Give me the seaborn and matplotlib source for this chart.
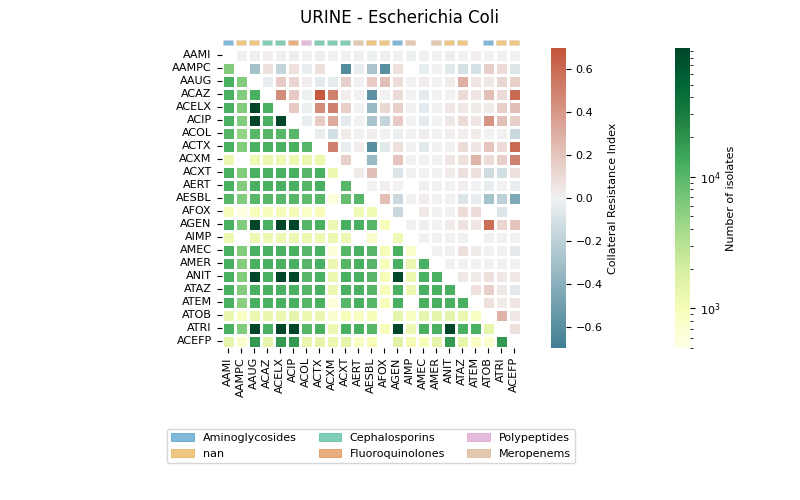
import numpy as np
import matplotlib
matplotlib.use("Agg")
import matplotlib.pyplot as plt
import seaborn as sns
from matplotlib.colors import LogNorm
from matplotlib.patches import Rectangle, Patch

# Antibiotics (rows / columns) and their class
antibiotics = ["AAMI", "AAMPC", "AAUG", "ACAZ", "ACELX", "ACIP", "ACOL", "ACTX",
               "ACXM", "ACXT", "AERT", "AESBL", "AFOX", "AGEN", "AIMP", "AMEC",
               "AMER", "ANIT", "ATAZ", "ATEM", "ATOB", "ATRI", "ACEFP"]
categories = ["Aminoglycosides", "nan", "nan", "Cephalosporins", "Cephalosporins",
              "Fluoroquinolones", "Polypeptides", "Cephalosporins", "Cephalosporins",
              "Cephalosporins", "Meropenems", "nan", "nan", "Aminoglycosides",
              "Meropenems", None, "Meropenems", "nan", "nan", None,
              "Aminoglycosides", "nan", "nan"]
category_order = ["Aminoglycosides", "nan", "Cephalosporins",
                  "Fluoroquinolones", "Polypeptides", "Meropenems"]

nan = np.nan

# Lower triangle: number of isolates (row i holds columns 0..i-1)
isolates_lower = [
    [6000],
    [12000, 6000],
    [12000, 6000, 12000],
    [12000, 6000, 90000, 12000],
    [12000, 6000, 90000, 12000, 90000],
    [10000, 4800, 10000, 10000, 10000, 10000],
    [12000, 6000, 12000, 12000, 12000, 12000, 10000],
    [1200, nan, 1200, 1200, 1200, 1200, 1200, 1200],
    [12000, 6000, 12000, 12000, 12000, 12000, 10000, 12000, 1200],
    [12000, 6000, 12000, 12000, 12000, 12000, 10000, 12000, nan, 10000],
    [10000, 6000, 10000, 10000, 10000, 10000, 9000, 10000, 600, 8500, 10000],
    [950, 550, 950, 950, 1000, 1000, 800, 950, nan, nan, 1100, 1100],
    [12000, 6000, 90000, 12000, 90000, 90000, 10000, 12000, 1200, 12000, 12000,
     10000, 980],
    [1200, nan, 1200, 1200, 1200, 1200, 1200, 1200, 1200, 1200, nan, 750, nan,
     1150],
    [12000, 6000, 12000, 12000, 12000, 12000, 10000, 12000, 600, 10000, 12000,
     10000, 980, 12000, 750],
    [12000, 6000, 12000, 12000, 12000, 12000, 10000, 12000, 1200, 10000, 12000,
     10000, 980, 12000, 1200, 12000],
    [12000, 6000, 90000, 12000, 90000, 90000, 10000, 12000, 1200, 12000, 12000,
     10000, 980, 90000, 1200, 12000, 12000],
    [12000, 6000, 12000, 12000, 12000, 12000, 10000, 12000, 1200, 12000, 12000,
     10000, 980, 12000, 1200, 12000, 12000, 12000],
    [12000, 5300, 12000, 12000, 12000, 12000, 10000, 12000, 600, 10000, 12000,
     10000, 980, 12000, nan, 12000, 12000, 12000, 12000],
    [1300, 850, 1300, 1300, 1300, 1400, 1200, 1300, 700, 980, 850, 980, nan,
     1400, 850, 1400, 1400, 1400, 1300, 850],
    [12000, 6000, 90000, 12000, 90000, 90000, 10000, 12000, 1200, 12000, 12000,
     10000, 980, 90000, 1200, 12000, 12000, 90000, 12000, 12000, 1400],
    [1400, 700, 18000, 1400, 18000, 18000, 1350, 1400, 1250, 1400, 850, 980, nan,
     1550, 1000, 950, 1400, 18000, 1400, 850, 700, 18000],
]

# Upper triangle: collateral resistance index (row i holds columns i+1..n-1)
cri_upper = [
    [-0.01, 0.02, 0.02, 0.01, 0.02, 0.0, 0.02, 0.0, 0.01, 0.01, -0.01, 0.02,
     -0.01, -0.01, -0.01, 0.0, 0.02, 0.0, 0.02, 0.0, 0.01, 0.0],
    [-0.3, 0.08, -0.18, 0.08, -0.03, 0.08, nan, -0.62, -0.03, -0.28, -0.6, 0.08,
     nan, -0.03, 0.0, -0.06, -0.1, -0.1, 0.15, 0.1, -0.08],
    [-0.03, 0.17, 0.13, 0.02, -0.05, -0.04, 0.15, 0.0, 0.17, 0.22, 0.1, 0.0,
     0.03, 0.0, 0.03, 0.3, 0.06, 0.04, 0.12, 0.15],
    [0.45, 0.18, -0.01, 0.68, 0.5, 0.02, 0.0, -0.58, 0.0, 0.1, 0.0, -0.05, 0.0,
     0.0, 0.1, 0.05, 0.22, 0.1, 0.6],
    [0.18, -0.02, 0.45, 0.5, 0.15, 0.0, -0.35, 0.12, 0.15, 0.0, -0.05, 0.0,
     0.04, 0.04, 0.03, 0.03, 0.15, 0.22],
    [-0.03, 0.18, 0.32, -0.05, 0.0, -0.28, -0.18, 0.17, 0.0, -0.05, 0.0, 0.04,
     0.1, 0.05, 0.42, 0.22, 0.15],
    [-0.03, -0.12, 0.03, 0.0, 0.02, 0.0, -0.02, 0.0, 0.02, 0.0, 0.02, 0.02,
     0.03, 0.0, 0.0, -0.15],
    [0.5, -0.03, 0.02, -0.6, -0.06, 0.08, 0.0, -0.06, 0.0, 0.0, 0.1, 0.05, 0.2,
     0.1, 0.6],
    [0.15, nan, -0.35, nan, 0.2, 0.0, 0.0, 0.0, 0.05, 0.08, 0.28, 0.1, 0.15, 0.5],
    [0.03, 0.22, nan, -0.08, 0.0, 0.0, 0.0, 0.03, 0.08, 0.08, -0.13, -0.12, 0.08],
    [0.0, 0.02, 0.0, nan, 0.01, 0.0, 0.0, 0.02, 0.0, -0.03, 0.0, -0.03],
    [0.22, -0.15, 0.0, 0.03, 0.0, 0.0, -0.08, -0.03, -0.3, -0.2, -0.45],
    [-0.15, nan, 0.04, 0.0, 0.0, 0.1, 0.1, nan, -0.08, nan],
    [0.0, -0.02, 0.0, 0.03, 0.07, 0.05, 0.58, 0.13, 0.2],
    [0.0, 0.0, 0.0, 0.0, nan, 0.0, 0.0, 0.0],
    [0.0, 0.01, 0.08, 0.03, 0.0, 0.0, -0.05],
    [0.0, 0.0, 0.0, 0.0, 0.0, 0.0],
    [0.04, 0.03, 0.08, 0.04, 0.04],
    [0.08, 0.15, 0.04, -0.05],
    [0.08, 0.03, 0.05],
    [0.28, 0.04],
    [0.08],
]

n = len(antibiotics)
isolates = np.full((n, n), np.nan)
cri = np.full((n, n), np.nan)
for row in isolates_lower:
    i = len(row)
    isolates[i, :i] = row
for row in cri_upper:
    cri[n - len(row) - 1, n - len(row):] = row

plt.rcParams["font.size"] = 8

fig = plt.figure(figsize=(8, 5), dpi=100)
ax = fig.add_axes([221.5 / 800, 152.5 / 500, 299 / 800, 299 / 500])
cax1 = fig.add_axes([551 / 800, 152 / 500, 15 / 800, 300 / 500])
cax2 = fig.add_axes([675 / 800, 152 / 500, 15 / 800, 300 / 500])

# upper triangle - collateral resistance
div_cmap = sns.diverging_palette(220, 20, as_cmap=True)
sns.heatmap(cri, mask=np.isnan(cri), cmap=div_cmap, vmin=-0.7, vmax=0.7,
            linewidths=1, linecolor="white", square=True, ax=ax, cbar_ax=cax1,
            cbar_kws={"label": "Collateral Resistance Index",
                      "ticks": [-0.6, -0.4, -0.2, 0.0, 0.2, 0.4, 0.6]},
            xticklabels=antibiotics, yticklabels=antibiotics)

# lower triangle - number of isolates
sns.heatmap(isolates, mask=np.isnan(isolates), cmap="YlGn",
            norm=LogNorm(vmin=500, vmax=95000),
            linewidths=1, linecolor="white", square=True, ax=ax, cbar_ax=cax2,
            cbar_kws={"label": "Number of isolates"},
            xticklabels=antibiotics, yticklabels=antibiotics)

ax.set_xticklabels(antibiotics, rotation=90, fontsize=8)
ax.set_yticklabels(antibiotics, rotation=0, fontsize=8)

# antibiotic class markers above the heatmap
palette = sns.color_palette("colorblind")
cat_colors = {c: palette[k] for k, c in enumerate(category_order)}
for j, cat in enumerate(categories):
    if cat is None:
        continue
    ax.add_patch(Rectangle((j + 0.13, -0.65), 0.74, 0.36,
                           facecolor=cat_colors[cat], edgecolor="lightgray",
                           linewidth=0.6, alpha=0.5, clip_on=False))

handles = [Patch(facecolor=cat_colors[c], edgecolor=cat_colors[c], alpha=0.5,
                 linewidth=0.6, label=c) for c in category_order]
ax.legend(handles=handles, loc="upper center", bbox_to_anchor=(0.5, -0.253),
          ncol=3, fontsize=8)

fig.text(0.5, 1 - 18 / 500, "URINE - Escherichia Coli", ha="center",
         va="center", fontsize=12)

fig.savefig("out.png", dpi=100)
